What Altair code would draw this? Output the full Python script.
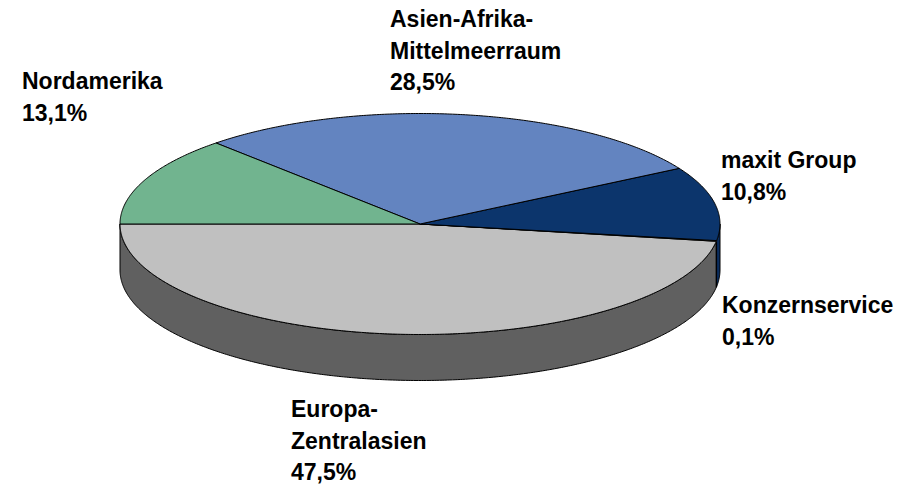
import altair as alt
import numpy as np
import pandas as pd

# ---- data ----
names = ["Europa-Zentralasien", "Konzernservice", "maxit Group",
         "Asien-Afrika-Mittelmeerraum", "Nordamerika"]
shares = [47.5, 0.1, 10.8, 28.5, 13.1]
label_texts = ["Europa-\nZentralasien\n47,5%", "Konzernservice\n0,1%",
               "maxit Group\n10,8%", "Asien-Afrika-\nMittelmeerraum\n28,5%",
               "Nordamerika\n13,1%"]

# ---- style / layout ----
top_colors = ["#C0C0C0", "#FFFFCC", "#0C356C", "#6384C0", "#71B48F"]
side_colors = ["#606060", "#80805F", "#0A2D5E", "#314260", "#385A48"]
CX, CY, RX, RY, DEPTH = 420, 224, 300, 110.5, 46
START = 180.0
label_x = [291, 722, 721, 390, 22]
label_y = [417, 313, 168, 27, 89]

# ---- build pie geometry from shares ----
cum = START
tops = []
sides = []
for k, s in enumerate(shares):
    a = cum
    b = cum + s * 3.6
    cum = b
    n = max(2, int(b - a) * 2 + 2)
    ts = np.linspace(a, b, n)
    pts = [(CX, CY)] + [(CX + RX * np.cos(np.radians(t)),
                         CY - RY * np.sin(np.radians(t))) for t in ts] + [(CX, CY)]
    tops.append((pts, top_colors[k]))
    lo, hi = max(a, 180.0), min(b, 360.0)
    if hi > lo:
        m = max(2, int(hi - lo) * 2 + 2)
        ss = np.linspace(lo, hi, m)
        upper = [(CX + RX * np.cos(np.radians(t)),
                  CY - RY * np.sin(np.radians(t))) for t in ss]
        lower = [(x, y + DEPTH) for x, y in upper][::-1]
        sp = upper + lower + [upper[0]]
        sides.append((sp, side_colors[k]))

xs = alt.Scale(domain=[8, 905], nice=False, zero=False)
ys = alt.Scale(domain=[8, 485], nice=False, zero=False, reverse=True)

layers = []
for pts, col in sides + tops:
    df = pd.DataFrame({"X": [p[0] for p in pts], "Y": [p[1] for p in pts],
                       "i": list(range(len(pts)))})
    layers.append(
        alt.Chart(df).mark_line(fill=col, stroke="black", strokeWidth=1,
                                strokeJoin="round").encode(
            x=alt.X("X:Q", scale=xs, axis=None),
            y=alt.Y("Y:Q", scale=ys, axis=None),
            order=alt.Order("i:Q"),
        )
    )

lab = pd.DataFrame({"X": label_x, "Y": label_y, "t": label_texts})
layers.append(
    alt.Chart(lab).mark_text(align="left", baseline="alphabetic",
                             font="Liberation Sans", fontWeight="bold",
                             fontSize=23, lineBreak="\n", lineHeight=31.5,
                             color="black").encode(
        x=alt.X("X:Q", scale=xs, axis=None),
        y=alt.Y("Y:Q", scale=ys, axis=None),
        text="t:N",
    )
)

chart = alt.layer(*layers).properties(
    width=897, height=477, padding=0, autosize=alt.AutoSizeParams(type="none")
).configure_view(stroke=None)

chart.save("out.html", embed_options={"renderer": "svg", "actions": False})
